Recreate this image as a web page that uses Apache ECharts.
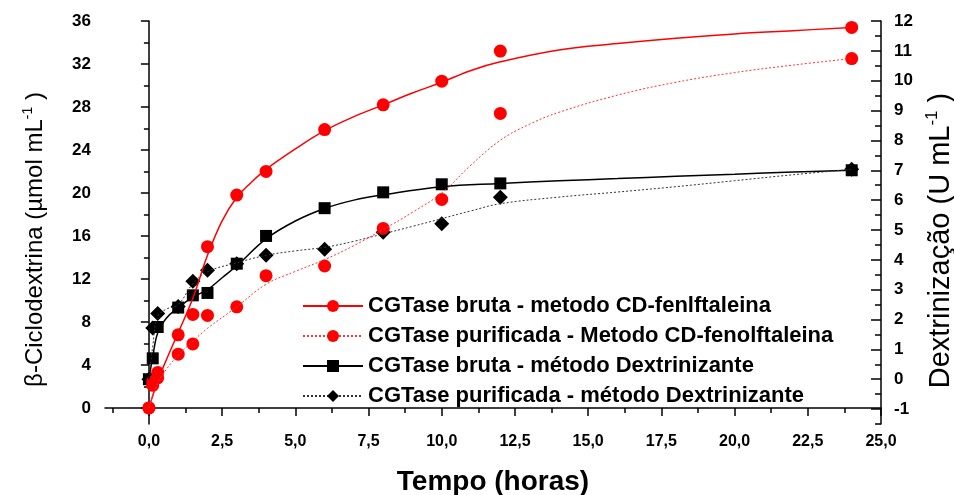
<!DOCTYPE html>
<html><head><meta charset="utf-8">
<script src="https://cdn.jsdelivr.net/npm/echarts@6/dist/echarts.min.js"></script>
<style>html,body{margin:0;padding:0;background:#fff}#c{width:954px;height:495px}</style>
</head><body><div id="c"></div>
<script>
// ---- tick labels ----
const xTickLabels = [0, 2.5, 5, 7.5, 10, 12.5, 15, 17.5, 20, 22.5, 25];
const xMinorTicks = [-1.25, 1.25, 3.75, 6.25, 8.75, 11.25, 13.75, 16.25, 18.75, 21.25, 23.75];
const leftTickLabels = [0, 4, 8, 12, 16, 20, 24, 28, 32, 36];
const leftMinorTicks = [2, 6, 10, 14, 18, 22, 26, 30, 34];
const rightTickLabels = [-1, 0, 1, 2, 3, 4, 5, 6, 7, 8, 9, 10, 11, 12];
const rightMinorTicks = [-1.5, -0.5, 0.5, 1.5, 2.5, 3.5, 4.5, 5.5, 6.5, 7.5, 8.5, 9.5, 10.5, 11.5];

// ---- series names ----
const names = [
  'CGTase bruta - metodo CD-fenlftaleina',
  'CGTase purificada - Metodo CD-fenolftaleina',
  'CGTase bruta - método Dextrinizante',
  'CGTase purificada - método Dextrinizante'
];

// ---- measured points (time in hours) ----
const tempo = [0, 0.13, 0.3, 1, 1.5, 2, 3, 4, 6, 8, 10, 12, 24];
const brutaCD = [0, 2.45, 3.3, 6.8, 8.7, 15.0, 19.8, 22.0, 25.9, 28.2, 30.4, 33.2, 35.4];
const purifCD = [0, 2.1, 2.8, 5.0, 5.95, 8.6, 9.4, 12.3, 13.2, 16.7, 19.4, 27.4, 32.5];
const brutaDex = [0, 0.7, 1.75, 2.4, 2.81, 2.89, 3.87, 4.8, 5.73, 6.26, 6.53, 6.56, 7.0];
const purifDex = [0, 1.72, 2.2, 2.44, 3.28, 3.65, 3.87, 4.15, 4.35, 4.92, 5.21, 6.1, 7.03];

// ---- curves as drawn in the picture ----
const curveTimeBrutaCD = [0, 0.3, 0.6, 1, 1.5, 2, 2.5, 3, 3.5, 4, 5, 6, 7, 8, 9, 10, 11, 12, 14, 16, 18, 20, 22, 24];
const curveBrutaCD = [0, 2.5, 4.5, 7.0, 10.2, 14.2, 17.4, 19.6, 21.0, 22.2, 24.1, 25.8, 27.1, 28.2, 29.3, 30.3, 31.4, 32.2, 33.3, 33.9, 34.4, 34.8, 35.1, 35.4];
const curveTimePurifCD = [0, 0.3, 0.6, 1, 1.5, 2, 3, 4, 5, 6, 7, 8, 9, 10, 11, 12, 13, 14, 16, 18, 20, 22, 24];
const curvePurifCD = [0, 2.3, 3.6, 4.9, 6.2, 7.4, 9.4, 11.5, 12.7, 13.8, 15.1, 16.6, 18.2, 20.0, 22.6, 24.9, 26.4, 27.5, 29.1, 30.3, 31.2, 31.9, 32.5];
const curveTimeBrutaDex = [0, 0.13, 0.3, 0.6, 1, 1.5, 2, 2.5, 3, 4, 5, 6, 7, 8, 10, 12, 14, 16, 18, 20, 22, 24];
const curveBrutaDex = [0, 0.75, 1.55, 2.05, 2.4, 2.75, 3.0, 3.4, 3.8, 4.7, 5.3, 5.72, 6.0, 6.18, 6.45, 6.56, 6.65, 6.72, 6.8, 6.87, 6.94, 7.0];
const curveTimePurifDex = [0, 0.13, 0.3, 0.6, 1, 1.5, 2, 3, 4, 5, 6, 7, 8, 9, 10, 11, 12, 14, 16, 18, 20, 22, 24];
const curvePurifDex = [0, 1.1, 2.1, 2.35, 2.5, 3.2, 3.6, 3.9, 4.15, 4.3, 4.42, 4.62, 4.87, 5.12, 5.38, 5.64, 5.88, 6.1, 6.27, 6.45, 6.65, 6.85, 7.03];

const zip = (a, b) => a.map((v, i) => [v, b[i]]);
const FONT = 'Liberation Sans, Arial, sans-serif';

const chart = echarts.init(document.getElementById('c'), null, {renderer: 'canvas'});

const lineAx = {lineStyle: {color: '#000', width: 1.5}};
const option = {
  animation: false,
  backgroundColor: '#fff',
  grid: {left: 105, right: 73, top: 21, bottom: 71, containLabel: false, outerBoundsMode: 'none'},
  legend: {
    orient: 'vertical', left: 297, top: 290, itemGap: 8, itemWidth: 60, itemHeight: 15,
    data: names,
    textStyle: {fontFamily: FONT, fontWeight: 'bold', fontSize: 22, color: '#000', lineHeight: 22, padding: [0, 0, 0, 0]},
    selectedMode: false
  },
  xAxis: [{
    type: 'value', min: -1.5, max: 25, position: 'bottom',
    axisLine: lineAx, splitLine: {show: false},
    axisTick: {customValues: xTickLabels, length: 8, lineStyle: {color: '#000', width: 1.5}},
    axisLabel: {customValues: xTickLabels, margin: 10, color: '#000', fontFamily: FONT, fontWeight: 'bold', fontSize: 16,
      formatter: v => v.toFixed(1).replace('.', ',')},
    name: 'Tempo (horas)', nameLocation: 'middle', nameGap: 44,
    nameTextStyle: {fontFamily: FONT, fontWeight: 'bold', fontSize: 28, color: '#000'}
  }, {
    type: 'value', min: -1.5, max: 25, position: 'bottom',
    axisLine: {show: false}, splitLine: {show: false}, axisLabel: {show: false},
    axisTick: {customValues: xMinorTicks, length: 5, lineStyle: {color: '#000', width: 1.5}}
  }],
  yAxis: [{
    type: 'value', min: -1.5, max: 36, position: 'left',
    axisLine: {show: true, lineStyle: {color: '#000', width: 1.5}}, splitLine: {show: false},
    axisTick: {customValues: leftTickLabels, length: 8, lineStyle: {color: '#000', width: 1.5}},
    axisLabel: {customValues: leftTickLabels, margin: 14, color: '#000', fontFamily: FONT, fontWeight: 'bold', fontSize: 17},
    name: '{n|β-Ciclodextrina (µmol mL}{s|-1}{n| )}', nameLocation: 'middle', nameRotate: 90, nameGap: 56,
    nameTextStyle: {padding: [0, 34, 0, 0], rich: {
      n: {fontFamily: FONT, fontSize: 24, color: '#000', lineHeight: 28},
      s: {fontFamily: FONT, fontSize: 14, color: '#000', lineHeight: 16, verticalAlign: 'top'}
    }}
  }, {
    type: 'value', min: -1.5, max: 36, position: 'left',
    axisLine: {show: false}, splitLine: {show: false}, axisLabel: {show: false},
    axisTick: {customValues: leftMinorTicks, length: 5, lineStyle: {color: '#000', width: 1.5}}
  }, {
    type: 'value', min: -1.5, max: 12, position: 'right',
    axisLine: {show: true, lineStyle: {color: '#000', width: 1.5}}, splitLine: {show: false},
    axisTick: {customValues: rightTickLabels, inside: true, length: 10, lineStyle: {color: '#000', width: 1.5}},
    axisLabel: {customValues: rightTickLabels, margin: 13, color: '#000', fontFamily: FONT, fontWeight: 'bold', fontSize: 17},
    name: '{n|Dextrinização (U mL}{s|-1}{n| )}', nameLocation: 'middle', nameRotate: 90, nameGap: 42,
    nameTextStyle: {padding: [0, 36, 0, 0], rich: {
      n: {fontFamily: FONT, fontSize: 29, color: '#000', lineHeight: 34},
      s: {fontFamily: FONT, fontSize: 17, color: '#000', lineHeight: 19, verticalAlign: 'top'}
    }}
  }, {
    type: 'value', min: -1.5, max: 12, position: 'right',
    axisLine: {show: false}, splitLine: {show: false}, axisLabel: {show: false},
    axisTick: {customValues: rightMinorTicks, inside: true, length: 6, lineStyle: {color: '#000', width: 1.5}}
  }],
  series: [
    {name: names[2], type: 'line', yAxisIndex: 2, smooth: 0.4, showSymbol: false, symbol: 'rect',
      data: zip(curveTimeBrutaDex, curveBrutaDex), lineStyle: {color: '#000', width: 1.5}, itemStyle: {color: '#000'}},
    {name: names[3], type: 'line', yAxisIndex: 2, smooth: 0.4, showSymbol: false, symbol: 'diamond',
      data: zip(curveTimePurifDex, curvePurifDex), lineStyle: {color: '#333', width: 1, type: [2, 2]}, itemStyle: {color: '#000'}},
    {name: names[0], type: 'line', yAxisIndex: 0, smooth: 0.4, showSymbol: false, symbol: 'circle',
      data: zip(curveTimeBrutaCD, curveBrutaCD), lineStyle: {color: '#ff0000', width: 1.5}, itemStyle: {color: '#ff0000'}},
    {name: names[1], type: 'line', yAxisIndex: 0, smooth: 0.4, showSymbol: false, symbol: 'circle',
      data: zip(curveTimePurifCD, curvePurifCD), lineStyle: {color: '#ff3333', width: 1, type: [2, 2]}, itemStyle: {color: '#ff0000'}},
    {name: names[2], type: 'scatter', yAxisIndex: 2, symbol: 'rect', symbolSize: 12,
      data: zip(tempo, brutaDex), itemStyle: {color: '#000', opacity: 1}},
    {name: names[3], type: 'scatter', yAxisIndex: 2, symbol: 'diamond', symbolSize: 15,
      data: zip(tempo, purifDex), itemStyle: {color: '#000', opacity: 1}},
    {name: names[0], type: 'scatter', yAxisIndex: 0, symbol: 'circle', symbolSize: 13,
      data: zip(tempo, brutaCD), itemStyle: {color: '#ff0000', opacity: 1}},
    {name: names[1], type: 'scatter', yAxisIndex: 0, symbol: 'circle', symbolSize: 13,
      data: zip(tempo, purifCD), itemStyle: {color: '#ff0000', opacity: 1}}
  ]
};
chart.setOption(option);
</script>
</body></html>
